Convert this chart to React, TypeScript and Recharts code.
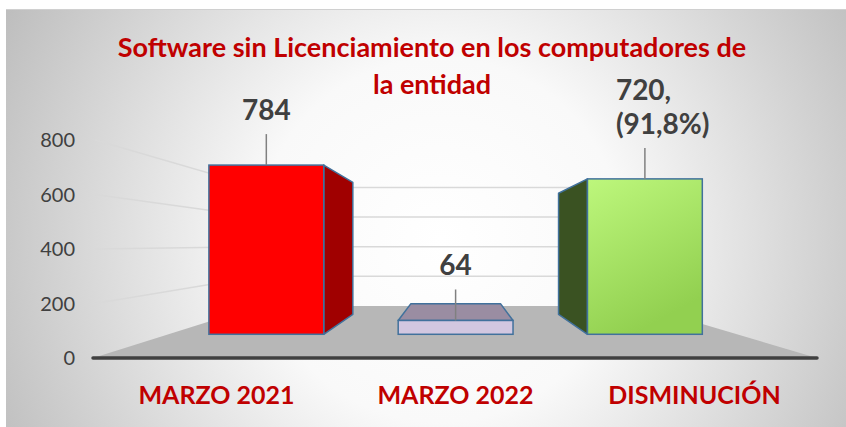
import React from 'react';
import { BarChart, Bar, XAxis, YAxis } from 'recharts';

// ---------- data ----------
const categories = ['MARZO 2021', 'MARZO 2022', 'DISMINUCIÓN'];
const values = [784, 64, 720];
const valueLabels = [['784'], ['64'], ['720,', '(91,8%)']];
const yTicks = [0, 200, 400, 600, 800];
const titleLines = ['Software sin Licenciamiento en los computadores de', 'la entidad'];

const data = categories.map((c, i) => ({ name: c, value: values[i], label: valueLabels[i] }));

// ---------- layout / style ----------
const W = 846;
const H = 427;
const MARGIN = { top: 140, right: 32, bottom: 9, left: 0 };
const Y_AXIS_W = 97;
const X_AXIS_H = 60;
const PLOT = {
  left: MARGIN.left + Y_AXIS_W,
  right: W - MARGIN.right,
  top: MARGIN.top,
  bottom: H - MARGIN.bottom - X_AXIS_H,
};
const Y_MAX = 800;
const yFront = (v: number) => PLOT.bottom - (v / Y_MAX) * (PLOT.bottom - PLOT.top);

// perspective
const VX = 456;
const VY = 244;
const F = 0.792; // bar front plane relative to chart front plane
const K = 0.78; // bar depth
const G = 0.544; // back wall
const persp = (px: number, py: number, f: number): [number, number] => [VX + (px - VX) * f, VY + (py - VY) * f];

const FONT = 'Lato, "Open Sans", "Liberation Sans", sans-serif';
const RED_TEXT = '#c00000';
const LABEL_GRAY = '#404040';
const BORDER = '#41719c';

const BAR_STYLES = [
  { front: '#ff0000', side: '#a00000' },
  { front: '#d2c7e0', side: '#9a8da2' },
  { front: 'url(#greenFront)', side: '#3a5222' },
];

const Bar3D = (props: any) => {
  const { x, y, width, height, index, payload } = props;
  const st = BAR_STYLES[index];
  const [fx0, fy0] = persp(x, y, F);
  const [fx1, fy1] = persp(x + width, y + height, F);
  const [bx0, by0] = persp(fx0, fy0, K);
  const [bx1, by1] = persp(fx1, fy1, K);
  const pts = (arr: number[][]) => arr.map((p) => p.join(',')).join(' ');
  const faces: React.ReactNode[] = [];
  if (fx1 < VX) {
    faces.push(
      <polygon key="r" points={pts([[fx1, fy0], [bx1, by0], [bx1, by1], [fx1, fy1]])} fill={st.side} stroke={BORDER} strokeWidth={1.5} strokeLinejoin="round" />
    );
  }
  if (fx0 > VX) {
    faces.push(
      <polygon key="l" points={pts([[fx0, fy0], [bx0, by0], [bx0, by1], [fx0, fy1]])} fill={st.side} stroke={BORDER} strokeWidth={1.5} strokeLinejoin="round" />
    );
  }
  if (fy0 > VY) {
    faces.push(
      <polygon key="t" points={pts([[fx0, fy0], [bx0, by0], [bx1, by0], [fx1, fy0]])} fill={st.side} stroke={BORDER} strokeWidth={1.5} strokeLinejoin="round" />
    );
  }
  const cx = (fx0 + fx1) / 2;
  const lines: string[] = payload.label;
  const multi = lines.length > 1;
  return (
    <g>
      <defs>
        <linearGradient id="greenFront" x1="0" y1="0" x2="0.4" y2="1">
          <stop offset="0" stopColor="#bdf77c" />
          <stop offset="1" stopColor="#92d050" />
        </linearGradient>
      </defs>
      {faces}
      <rect x={fx0} y={fy0} width={fx1 - fx0} height={fy1 - fy0} fill={st.front} stroke={BORDER} strokeWidth={1.5} />
      <line x1={cx} y1={fy0} x2={cx} y2={fy0 - 31} stroke="#808080" strokeWidth={1.5} />
      {lines.map((t, i) => (
        <text
          key={i}
          x={multi ? cx - 29 : cx}
          y={fy0 - 45 - (lines.length - 1 - i) * 34}
          textAnchor={multi ? 'start' : 'middle'}
          fontFamily={FONT}
          fontWeight={700}
          fontSize={28}
          fill={LABEL_GRAY}
        >
          {t}
        </text>
      ))}
    </g>
  );
};

const Background = () => {
  const fl = PLOT.left - 4;
  const fr = PLOT.right + 3;
  const fy = yFront(0);
  const [blx, bly] = persp(fl, fy, G);
  const [brx] = persp(fr - 20, fy, G);
  return (
    <svg width={W} height={H} style={{ position: 'absolute', left: 0, top: 0 }}>
      <defs>
        <radialGradient id="panelBg" gradientUnits="userSpaceOnUse" cx={440} cy={240} r={520}>
          <stop offset="0" stopColor="#ffffff" />
          <stop offset="0.35" stopColor="#f9f9f9" />
          <stop offset="1" stopColor="#b8b8b8" />
        </radialGradient>
      </defs>
      <rect x={0} y={0} width={W} height={H} fill="#ffffff" />
      <rect x={6} y={9} width={W - 6} height={H - 9} fill="url(#panelBg)" />
      <line x1={6} y1={9.5} x2={W} y2={9.5} stroke="#d0d0d0" strokeWidth={1} />
      {/* walls */}
      {yTicks.filter((v) => v > 0).map((v) => {
        const [, by] = persp(fl, yFront(v), G);
        return (
          <g key={v}>
            <line x1={fl + 2} y1={yFront(v)} x2={blx} y2={by} stroke="#d9d9d9" strokeWidth={1.5} />
            <line x1={blx} y1={by} x2={brx} y2={by} stroke="#d9d9d9" strokeWidth={1.5} />
          </g>
        );
      })}
      {/* floor */}
      <polygon points={`${fl},${fy} ${fr},${fy} ${brx},${bly} ${blx},${bly}`} fill="#b7b7b7" />
      <line x1={fl} y1={fy} x2={fr} y2={fy} stroke="#404040" strokeWidth={3.5} strokeLinecap="round" />
      {/* title */}
      {titleLines.map((t, i) => (
        <text key={i} x={432} y={57 + i * 37} textAnchor="middle" fontFamily={FONT} fontWeight={700} fontSize={27} fill={RED_TEXT}>
          {t}
        </text>
      ))}
    </svg>
  );
};

export default function App() {
  return (
    <div style={{ position: 'absolute', left: 0, top: 0, width: W, height: H }}>
      <Background />
      <div style={{ position: 'absolute', left: 0, top: 0 }}>
        <BarChart width={W} height={H} data={data} margin={MARGIN}>
          <XAxis
            dataKey="name"
            height={X_AXIS_H}
            axisLine={false}
            tickLine={false}
            tickSize={0}
            tickMargin={28}
            interval={0}
            tick={{ fill: RED_TEXT, fontSize: 25, fontWeight: 700, fontFamily: FONT }}
          />
          <YAxis
            width={Y_AXIS_W}
            domain={[0, Y_MAX]}
            ticks={yTicks}
            axisLine={false}
            tickLine={false}
            tickSize={0}
            tickMargin={22}
            tick={{ fill: LABEL_GRAY, fontSize: 20, fontFamily: FONT }}
          />
          <Bar dataKey="value" barSize={145} isAnimationActive={false} shape={<Bar3D />} />
        </BarChart>
      </div>
    </div>
  );
}
